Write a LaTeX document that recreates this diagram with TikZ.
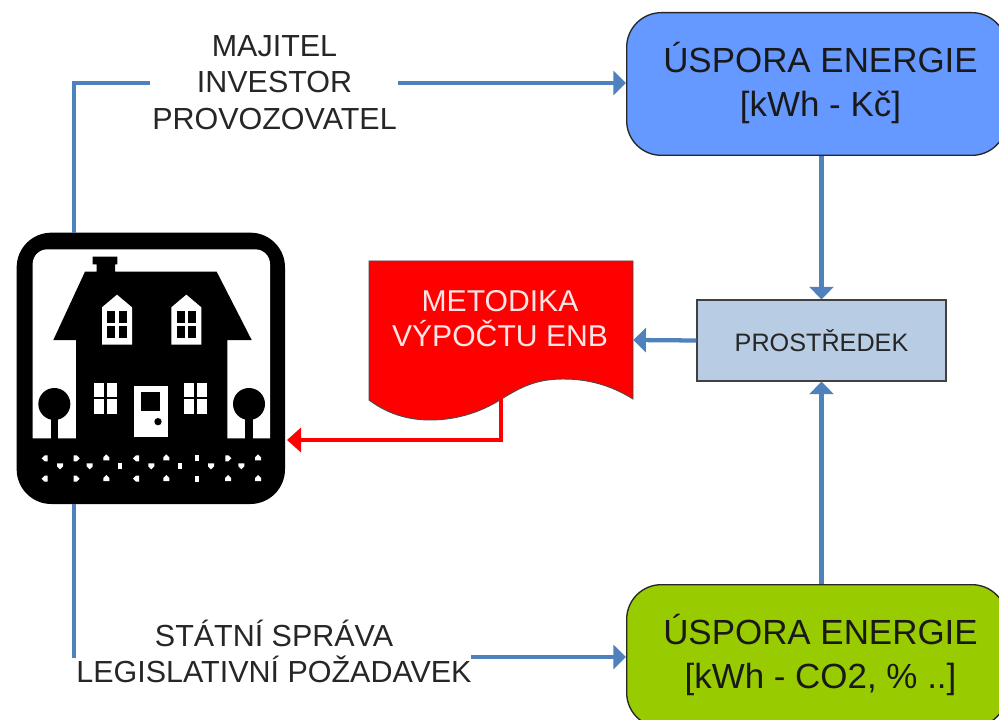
\documentclass[tikz,border=0pt]{standalone}
\usepackage{fontspec}
\setmainfont{Liberation Sans}
\usetikzlibrary{arrows.meta}
\definecolor{linkblue}{HTML}{4F81BD}
\definecolor{boxblue}{HTML}{6699FF}
\definecolor{boxgreen}{HTML}{99CC00}
\definecolor{boxpale}{HTML}{B8CCE4}
\tikzset{
  bigbox/.style={draw=black!85,line width=1pt,rounded corners=26pt,anchor=north west,inner sep=0pt,minimum width=285pt,minimum height=107pt},
  bigtext/.style={font=\fontsize{26.2}{33}\selectfont,align=center,text=black!90,inner sep=0pt},
  lbl/.style={align=center,font=\fontsize{22.85}{27.4}\selectfont,text=black!85,inner sep=0pt},
  link/.style={draw=linkblue,line width=3.2pt},
  linkarrow/.style={link,-{Triangle[length=9.5pt,width=18pt]}},
  redlink/.style={draw=red,line width=3.2pt,-{Triangle[length=10.5pt,width=18pt]}}
}
\begin{document}
\begin{tikzpicture}[x=0.75pt,y=-0.75pt]
\useasboundingbox (0,0) rectangle (999,720);
\fill[white] (0,0) rectangle (999,720);

% nodes
\node[bigbox,fill=boxblue] (top) at (626,12) {};
\node[bigtext] (toptext) at (820.5,83) {ÚSPORA ENERGIE\\{[}kWh - Kč{]}};
\node[bigbox,fill=boxgreen] (bot) at (626,584) {};
\node[bigtext] (bottext) at (820.5,655) {ÚSPORA ENERGIE\\{[}kWh - CO2, \% ..{]}};
\node[draw=black!75,line width=1.1pt,fill=boxpale,minimum width=186.5pt,minimum height=60.5pt,inner sep=0pt,font=\fontsize{18.9}{22}\selectfont,text=black!85] (prost) at (821.5,340.5) {PROSTŘEDEK};
\node[lbl] (lab1) at (274.5,82.5) {MAJITEL\\INVESTOR\\PROVOZOVATEL};
\node[lbl] (lab2) at (274,651.5) {STÁTNÍ SPRÁVA\\LEGISLATIVNÍ POŽADAVEK};

% document shape
\draw[fill=red,draw=black!70,line width=0.7pt] (369,261) -- (633,261) -- (633,399)
  .. controls (612,386) and (590,379) .. (563,379)
  .. controls (535,379) and (520,388) .. (503,398)
  .. controls (485,410) and (460,420) .. (430,420)
  .. controls (405,420) and (385,412) .. (369,400) -- cycle;
\node[inner sep=0pt,minimum width=198pt,minimum height=118pt] (doc) at (501,340) {};
\node[align=center,text=white!90!red,font=\fontsize{22.6}{26.2}\selectfont,inner sep=0pt] (doctext) at (500,319) {METODIKA\\VÝPOČTU ENB};

% house icon
\node[inner sep=0pt,minimum width=201pt,minimum height=203.25pt] (house) at (151,368.5) {};
\begin{scope}[shift={(0,220)},x=0.25pt,y=-0.25pt]
  \fill[black,rounded corners=26pt] (50,38) rectangle (855,852);
  \fill[white] (98,655) [rounded corners=11pt] -- (98,88) -- (810,88) [sharp corners] -- (810,655) -- cycle;
  % roof, body, chimney
  \fill[black] (160,360) -- (255,155) -- (290,155) -- (290,133) -- (278,133) -- (278,110) -- (352,110) -- (352,133) -- (345,133) -- (345,155) -- (650,155) -- (755,360) -- (682,360) -- (682,660) -- (228,660) -- (228,360) -- cycle;
  % dormers
  \foreach \dx in {0,208}{
    \begin{scope}[xshift=\dx*0.25pt]
    \fill[white] (306,374) -- (306,262) -- (351,224) -- (396,262) -- (396,374) -- cycle;
    \foreach \a/\b in {322/274,356/274,322/318,356/318}
      \fill[black] (\a,\b) rectangle ++(24,36);
    \end{scope}
  }
  % lower windows
  \foreach \a in {283,552}{
    \foreach \da/\b in {0/488,39/488,0/538,39/538}
      \fill[white] (\a+\da,\b) rectangle ++(29,44);
  }
  % door
  \fill[white] (401,498) rectangle (503,650);
  \fill[black] (423,516) rectangle (480,572);
  \fill[black] (474,605) circle (11);
  % trees
  \foreach \a in {163,747}{
    \fill[black] (\a,552) circle (48);
    \fill[black] (\a-11,590) rectangle (\a+11,660);
  }
  % ground specks: pointed
  \foreach \a/\b/\r in {135/715/180,229/715/0,319/713/90,409/715/180,499/713/90,684/715/0,774/713/90,
      180/738/-90,269/738/-90,454/738/-90,633/738/-90,724/738/-90,
      135/776/180,229/776/0,319/775/90,409/776/180,499/775/90,684/775/90,774/775/90}
    \fill[white,shift={(\a,\b)},rotate=\r] (-8,-9) -- (1,-9) -- (10,0) -- (1,9) -- (-8,9) -- cycle;
  % ground specks: square
  \foreach \a/\b in {592/715,361/738,541/738,592/776}
    \fill[white] (\a-6,\b-9) rectangle (\a+6,\b+9);
\end{scope}

% connectors
\coordinate (hN) at (74,233);
\coordinate (hS) at (74,504);
\coordinate (l1w) at (150,83);
\coordinate (l1e) at (398,83);
\coordinate (t1) at (626,83);
\coordinate (l2w) at (74,658);
\coordinate (l2e) at (471,657);
\coordinate (b1) at (626,657);
\coordinate (dred) at (501,398);
\coordinate (hE) at (287,440);
\draw[link] (hN) |- (l1w);
\draw[linkarrow] (l1e) -- (t1);
\draw[link] (hS) -- (l2w);
\draw[linkarrow] (l2e) -- (b1);
\draw[linkarrow] (top.south -| prost.north) -- (prost.north);
\draw[linkarrow] (bot.north -| prost.south) -- (prost.south);
\draw[linkarrow] (prost.west) -- (doc.east);
\draw[redlink] (dred) |- (hE);
\end{tikzpicture}
\end{document}
